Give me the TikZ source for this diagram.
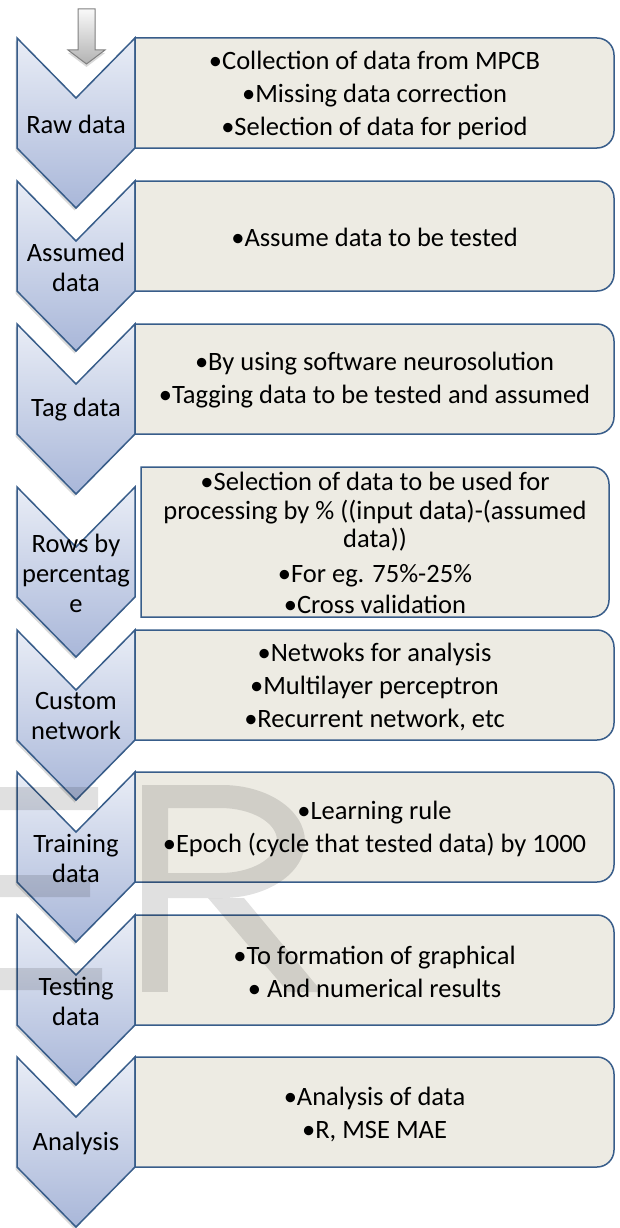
\documentclass[tikz,border=0pt]{standalone}
\usepackage{fontspec}
\setmainfont{Carlito}
\usepackage{tikz}
\usetikzlibrary{shadows}
\definecolor{chevline}{HTML}{385D8A}
\definecolor{chevtop}{HTML}{E9EDF6}
\definecolor{chevbot}{HTML}{A9B7D9}
\definecolor{panelfill}{HTML}{EDEBE3}
\tikzset{
  chev/.style={draw=chevline,line width=1.5pt,top color=chevtop,bottom color=chevbot,
    drop shadow={shadow xshift=-1.5pt,shadow yshift=-2.5pt,opacity=.3}},
  panel/.style={draw=chevline,line width=1.5pt,fill=panelfill},
  chevtext/.style={font=\fontsize{26.5}{30}\selectfont,align=center,inner sep=0pt},
  paneltext/.style={font=\fontsize{26.5}{33}\selectfont,align=center,inner sep=0pt},
  downarrow/.style={draw=gray,line width=1pt,top color=gray!5,bottom color=gray!60,
    drop shadow={shadow xshift=0pt,shadow yshift=-3pt,opacity=.3}},
  wmark/.style={fill=black,opacity=.12}
}

\begin{document}
\begin{tikzpicture}[x=1pt,y=-1pt]
%\draw[help lines](0,0)grid(620,1228);
\useasboundingbox (0,0) rectangle (620,1228);
\draw[downarrow] (78,9)--(95,9)--(95,50)--(105,50)--(86.5,64)--(68,50)--(78,50)--cycle;

\draw[chev] (17,38)--++(59,60)--++(59,-60)--++(0,110)--++(-59,60)--++(-59,-60)--cycle;
\draw[panel] (135,38)--(597,38) arc[start angle=-90,end angle=0,radius=17]--++(0,76) arc[start angle=0,end angle=90,radius=17]--(135,148)--cycle;
\node[chevtext] (raw) at (76,124) {Raw data};
\node[paneltext] (rawtxt) at (374.5,95) {•Collection of data from MPCB\\•Missing data correction\\•Selection of data for period};

\draw[chev] (17,181)--++(59,60)--++(59,-60)--++(0,110)--++(-59,60)--++(-59,-60)--cycle;
\draw[panel] (135,181)--(597,181) arc[start angle=-90,end angle=0,radius=17]--++(0,76) arc[start angle=0,end angle=90,radius=17]--(135,291)--cycle;
\node[chevtext] (assumed) at (76,267) {Assumed\\data};
\node[paneltext] (assumedtxt) at (374.5,237) {•Assume data to be tested};

\draw[chev] (17,324)--++(59,60)--++(59,-60)--++(0,110)--++(-59,60)--++(-59,-60)--cycle;
\draw[panel] (135,324)--(597,324) arc[start angle=-90,end angle=0,radius=17]--++(0,76) arc[start angle=0,end angle=90,radius=17]--(135,434)--cycle;
\node[chevtext] (tag) at (76,410) {Tag data};
\node[paneltext] (tagtxt) at (374.5,380) {•By using software neurosolution\\•Tagging data to be tested and assumed};

\draw[chev] (17,487)--++(59,60)--++(59,-60)--++(0,110)--++(-59,60)--++(-59,-60)--cycle;
\draw[panel] (141,467)--(592,467) arc[start angle=-90,end angle=0,radius=17]--++(0,116) arc[start angle=0,end angle=90,radius=17]--(141,617)--cycle;
\node[chevtext] (rows) at (76,573) {Rows by\\percentag\\e};
\node[paneltext,font=\fontsize{26.5}{28.5}\selectfont] (rowstxt) at (375,543) {•Selection of data to be used for\\processing by \% ((input data)-(assumed\\data))\\[6pt]•For eg. 75\%-25\%\\[3pt]•Cross validation};

\draw[chev] (17,630)--++(59,60)--++(59,-60)--++(0,110)--++(-59,60)--++(-59,-60)--cycle;
\draw[panel] (135,630)--(597,630) arc[start angle=-90,end angle=0,radius=17]--++(0,76) arc[start angle=0,end angle=90,radius=17]--(135,740)--cycle;
\node[chevtext] (custom) at (76,716) {Custom\\network};
\node[paneltext] (customtxt) at (374.5,687) {•Netwoks for analysis\\•Multilayer perceptron\\•Recurrent network, etc};

\draw[chev] (17,772)--++(59,60)--++(59,-60)--++(0,110)--++(-59,60)--++(-59,-60)--cycle;
\draw[panel] (135,772)--(597,772) arc[start angle=-90,end angle=0,radius=17]--++(0,76) arc[start angle=0,end angle=90,radius=17]--(135,882)--cycle;
\node[chevtext] (training) at (76,858) {Training\\data};
\node[paneltext] (trainingtxt) at (374.5,829) {•Learning rule\\•Epoch (cycle that tested data) by 1000};

\draw[chev] (17,915)--++(59,60)--++(59,-60)--++(0,110)--++(-59,60)--++(-59,-60)--cycle;
\draw[panel] (135,915)--(597,915) arc[start angle=-90,end angle=0,radius=17]--++(0,76) arc[start angle=0,end angle=90,radius=17]--(135,1025)--cycle;
\node[chevtext] (testing) at (76,1001) {Testing\\data};
\node[paneltext] (testingtxt) at (374.5,972) {•To formation of graphical\\• And numerical results};

\draw[chev] (17,1057)--++(59,60)--++(59,-60)--++(0,110)--++(-59,60)--++(-59,-60)--cycle;
\draw[panel] (135,1057)--(597,1057) arc[start angle=-90,end angle=0,radius=17]--++(0,76) arc[start angle=0,end angle=90,radius=17]--(135,1167)--cycle;
\node[chevtext] (analysis) at (76,1143) {Analysis};
\node[paneltext] (analysistxt) at (374.5,1114) {•Analysis of data\\•R, MSE MAE};

% watermark
\fill[wmark] (0,787) rectangle (98,810) (0,875) rectangle (90,897) (0,968) rectangle (102,990);
\fill[wmark] (142,785) rectangle (168,992);
\fill[wmark,even odd rule] (168,785)--(222,785) arc[start angle=-90,end angle=90,x radius=83,y radius=56.5]--(168,898)--cycle
  (168,808)--(220,808) arc[start angle=-90,end angle=90,x radius=57,y radius=32.5]--(168,873)--cycle;
\fill[wmark] (208,898)--(244,898)--(322,992)--(288,992)--cycle;
\end{tikzpicture}
\end{document}
